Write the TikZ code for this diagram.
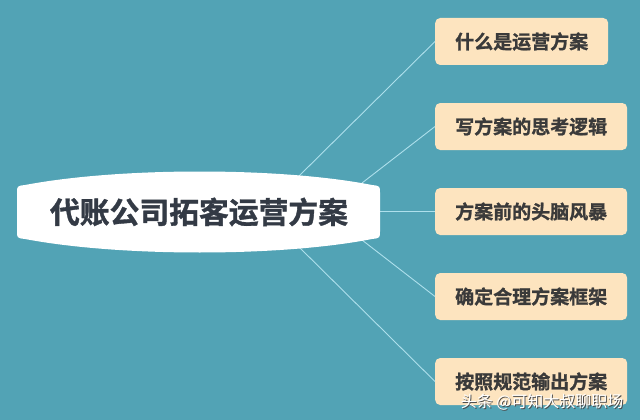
\documentclass[tikz,border=0pt]{standalone}
\usepackage{fontspec}
\newfontfamily\cjk{Noto Sans CJK SC}[BoldFont={Noto Sans CJK SC Bold},BoldFeatures={FakeBold=1.2}]
\usetikzlibrary{positioning}
\definecolor{bgteal}{HTML}{52A3B5}
\definecolor{boxpeach}{HTML}{FDE4BF}
\definecolor{linkblue}{HTML}{AEE0EC}
\definecolor{inktext}{HTML}{3A3A3A}
\definecolor{inkmain}{HTML}{333A45}

\begin{document}
\begin{tikzpicture}[x=1pt,y=-1pt,
    topic/.style={anchor=west,fill=boxpeach,rounded corners=5pt,inner xsep=20pt,
        minimum height=47pt,text=inktext,font=\cjk\bfseries\fontsize{19}{19}\selectfont},
    link/.style={draw=linkblue,line width=0.9pt}]
    \useasboundingbox[fill=bgteal] (0,0) rectangle (640,420);
    % topics
    \node[topic] (t1) at (435,41.5) {什么是运营方案};
    \node[topic] (t2) at (435,126.5) {写方案的思考逻辑};
    \node[topic] (t3) at (435,211.5) {方案前的头脑风暴};
    \node[topic] (t4) at (435,296.5) {确定合理方案框架};
    \node[topic] (t5) at (435,381.5) {按照规范输出方案};
    % start points on the main shape
    \coordinate (s1) at (299,176);
    \coordinate (s2) at (362,183);
    \coordinate (s3) at (378,211.5);
    \coordinate (s4) at (362,240);
    \coordinate (s5) at (299,247);
    \foreach \i in {1,...,5}
        \draw[link] (s\i) -- (t\i.west);
    % main shape
    \fill[white] (17,193) .. controls (17,186) .. (25,185)
        .. controls (120,167) and (280,167) .. (372,185)
        .. controls (380,186) .. (380,193) -- (380,231)
        .. controls (380,238) .. (372,239)
        .. controls (280,257) and (120,257) .. (25,239)
        .. controls (17,238) .. (17,231) -- cycle;
    \node[text=inkmain,font=\cjk\bfseries\fontsize{29.8}{30}\selectfont] (main) at (199,212) {代账公司拓客运营方案};
    % watermark
    \node[text=black!70,font=\cjk\fontsize{16}{16}\selectfont,anchor=east] (wmshadow) at (628,403) {头条 @可知大叔聊职场};
    \node[text=white,font=\cjk\fontsize{16}{16}\selectfont,anchor=east] (wm) at (627,402) {头条 @可知大叔聊职场};
\end{tikzpicture}
\end{document}
